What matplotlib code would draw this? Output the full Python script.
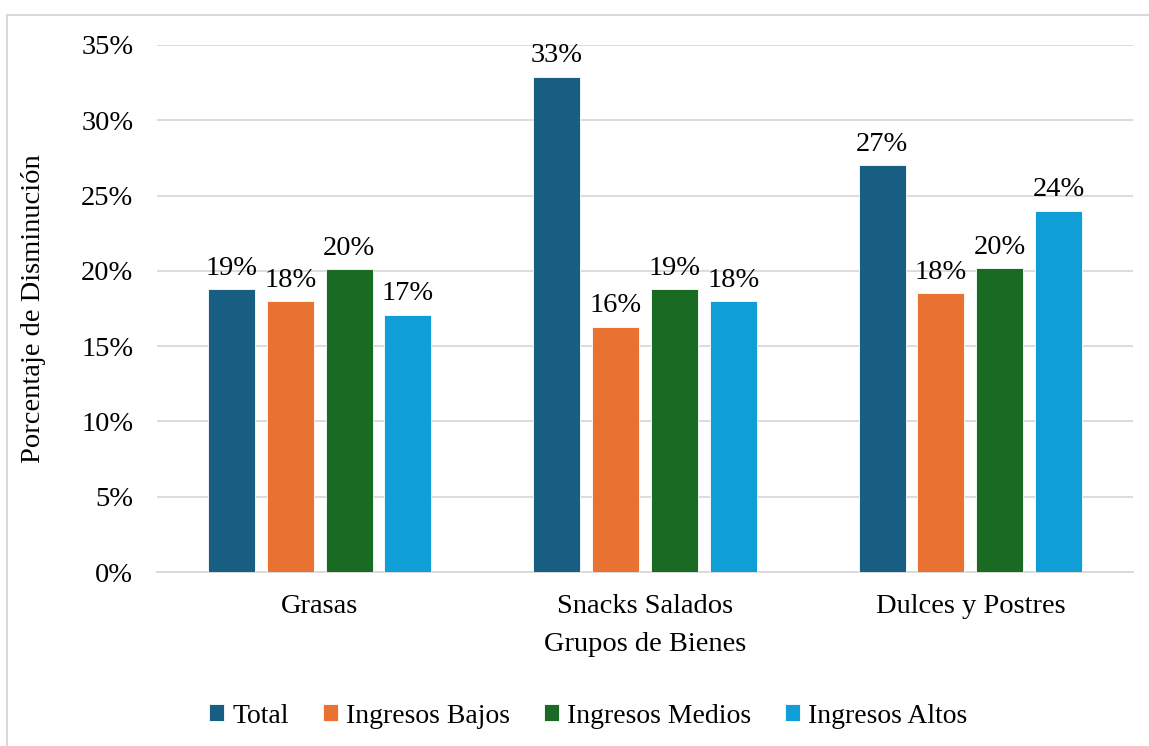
import matplotlib.pyplot as plt
import numpy as np
from matplotlib.patches import Rectangle

plt.rcParams['font.family'] = ['Liberation Serif', 'DejaVu Serif']

grupos = ["Grasas", "Snacks Salados", "Dulces y Postres"]
series = ["Total", "Ingresos Bajos", "Ingresos Medios", "Ingresos Altos"]
total = [0.188, 0.329, 0.270]
ingresos_bajos = [0.180, 0.163, 0.185]
ingresos_medios = [0.201, 0.188, 0.202]
ingresos_altos = [0.171, 0.180, 0.240]
colores = ["#175E82", "#E97132", "#196B24", "#0F9ED5"]

valores = [total, ingresos_bajos, ingresos_medios, ingresos_altos]

fig = plt.figure(figsize=(11.49, 7.46), dpi=100)
ax = fig.add_axes([0.1366, 0.2332, 0.8495, 0.7065])

# marco exterior del gráfico
fig.patches.append(Rectangle((7 / 1149, -0.1), 1.2, 1 - 15 / 746 + 0.1,
                             transform=fig.transFigure, fill=False,
                             edgecolor="#D9D9D9", linewidth=1.5))

x = np.arange(len(grupos))
paso = 0.181
ancho = 0.1445
for i, (nombre, vals, col) in enumerate(zip(series, valores, colores)):
    pos = x + (i - 1.5) * paso
    barras = ax.bar(pos, vals, ancho, color=col, label=nombre,
                    edgecolor="white", linewidth=0.6, zorder=3)
    ax.bar_label(barras, labels=[f"{v:.0%}" for v in vals], padding=6,
                 fontsize=20.5)

ax.set_xlim(-0.5, 2.5)
ax.set_ylim(0, 0.35)
ax.set_yticks(np.arange(0, 0.351, 0.05))
ax.set_yticklabels([f"{int(round(t * 100))}%" for t in np.arange(0, 0.351, 0.05)])
ax.set_xticks(x)
ax.set_xticklabels(grupos)
ax.tick_params(axis="both", length=0, labelsize=20.5)
ax.tick_params(axis="y", pad=17)
ax.tick_params(axis="x", pad=16)
ax.grid(axis="y", color="#D9D9D9", linewidth=1.3, zorder=0)
for s in ["top", "right", "left"]:
    ax.spines[s].set_visible(False)
ax.spines["bottom"].set_color("#D9D9D9")
ax.spines["bottom"].set_linewidth(1.3)

ax.set_xlabel("Grupos de Bienes", fontsize=20.5, labelpad=9)
ax.set_ylabel("Porcentaje de Disminución", fontsize=20.5, labelpad=25)

fig.legend(loc="center", bbox_to_anchor=(0.512, 0.040), ncol=4, frameon=False,
           fontsize=20, handlelength=0.55, handleheight=0.55, handletextpad=0.3,
           columnspacing=1.2)

fig.savefig("out.png", dpi=100)
